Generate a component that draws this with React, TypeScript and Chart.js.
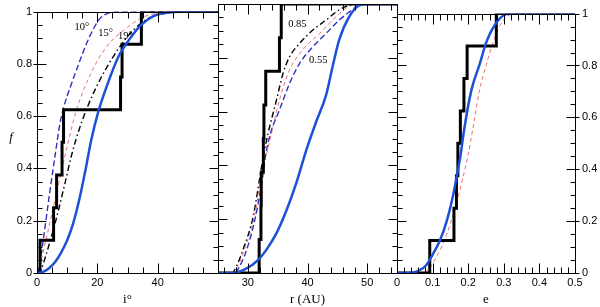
import React, { useEffect, useRef } from "react";
import { Chart, registerables } from "chart.js";

Chart.register(...registerables);

// ---------- shared ----------
const CUM_FRACTION = [0, 0.125, 0.25, 0.375, 0.5, 0.625, 0.75, 0.875, 1, 1];
const F_TICKS = [0, 0.2, 0.4, 0.6, 0.8, 1];
const F_TICK_LABELS = ["0", "0.2", "0.4", "0.6", "0.8", "1"];

// ---------- panel 1: inclination i (deg) ----------
const I_TICKS = [0, 20, 40];
const P1_OBS_I = [0, 1.0, 5.5, 6.5, 8.3, 8.8, 27.7, 28.2, 34.6, 60];
const P1_FIT_I = [0, 2, 4, 6, 8, 10, 12, 14, 16, 18, 20.4, 23.2, 27.1, 30.4, 34.3, 38.8, 45, 50, 60];
const P1_FIT_F = [0, 0.004, 0.018, 0.042, 0.078, 0.125, 0.19, 0.28, 0.39, 0.51, 0.62, 0.717, 0.83, 0.89, 0.946, 0.984, 0.998, 1, 1];
const P1_S10_I = [0, 0.5, 2, 4, 6, 7.5, 9, 11, 13.5, 16.5, 19, 21, 24, 28, 60];
const P1_S10_F = [0, 0.01, 0.12, 0.29, 0.45, 0.565, 0.64, 0.71, 0.79, 0.88, 0.94, 0.975, 0.995, 1, 1];
const P1_S15_I = [0, 0.5, 3, 6, 9.5, 13, 17.5, 23, 30, 35, 40, 45, 60];
const P1_S15_F = [0, 0.01, 0.13, 0.28, 0.46, 0.62, 0.755, 0.865, 0.94, 0.978, 0.994, 1, 1];
const P1_S19_I = [0, 1, 3, 6, 9, 11.6, 14, 17, 21, 25.4, 29, 32, 36.6, 43, 50, 60];
const P1_S19_F = [0, 0.005, 0.07, 0.19, 0.33, 0.457, 0.55, 0.643, 0.742, 0.83, 0.89, 0.93, 0.972, 0.995, 1, 1];
const P1_NOTE_TEXT = ["10°", "15°", "19°"];
const P1_NOTE_I = [14.9, 22.7, 29.3];
const P1_NOTE_F = [0.94, 0.918, 0.906];

// ---------- panel 2: r (AU) ----------
const R_TICKS = [30, 40, 50];
const P2_OBS_R = [25, 31.9, 32.2, 32.25, 32.6, 32.7, 33.0, 35.3, 35.6, 55];
const P2_FIT_R = [25, 27.5, 29.8, 31.7, 33.1, 34.8, 36.5, 38.1, 39.8, 41.5, 43.1, 44.2, 45.3, 47, 48.7, 50.3, 55];
const P2_FIT_F = [0, 0, 0.017, 0.048, 0.086, 0.148, 0.234, 0.333, 0.457, 0.565, 0.66, 0.767, 0.866, 0.953, 0.995, 1, 1];
const P2_A85_R = [25, 27.3, 28.2, 29.2, 30.9, 32.3, 32.8, 33.4, 34.8, 35.9, 37, 38.7, 40.9, 43.1, 45.3, 47, 48.5, 55];
const P2_A85_F = [0, 0, 0.03, 0.087, 0.21, 0.395, 0.457, 0.52, 0.643, 0.742, 0.804, 0.854, 0.903, 0.94, 0.978, 0.995, 1, 1];
const P2_MID_R = [25, 27.5, 28.3, 29.4, 31.1, 32.5, 33.3, 35.3, 37, 39.2, 42, 44.8, 47.2, 48.5, 55];
const P2_MID_F = [0, 0, 0.025, 0.087, 0.21, 0.395, 0.457, 0.643, 0.755, 0.83, 0.89, 0.953, 0.995, 1, 1];
const P2_A55_R = [25, 27.8, 28.5, 29.8, 31.2, 32.3, 33.0, 33.8, 35.3, 37, 38.7, 40.9, 43.1, 45.3, 47, 48.5, 50, 55];
const P2_A55_F = [0, 0, 0.02, 0.086, 0.2, 0.33, 0.44, 0.52, 0.606, 0.705, 0.78, 0.841, 0.89, 0.94, 0.97, 0.995, 1, 1];
const P2_NOTE_TEXT = ["0.85", "0.55"];
const P2_NOTE_R = [38.3, 41.8];
const P2_NOTE_F = [0.926, 0.79];

// ---------- panel 3: eccentricity e ----------
const E_TICKS = [0, 0.1, 0.2, 0.3, 0.4, 0.5];
const E_TICK_LABELS = ["0", "0.1", "0.2", "0.3", "0.4", "0.5"];
const P3_OBS_E = [0, 0.092, 0.16, 0.167, 0.171, 0.178, 0.188, 0.197, 0.279, 0.5];
const P3_FIT_E = [0, 0.03, 0.054, 0.082, 0.101, 0.12, 0.139, 0.157, 0.171, 0.178, 0.19, 0.209, 0.232, 0.251, 0.279, 0.308, 0.33, 0.5];
const P3_FIT_F = [0, 0, 0.005, 0.03, 0.073, 0.123, 0.197, 0.296, 0.395, 0.45, 0.565, 0.705, 0.804, 0.89, 0.965, 0.998, 1, 1];
const P3_MOD_E = [0, 0.07, 0.082, 0.11, 0.139, 0.167, 0.19, 0.2, 0.216, 0.232, 0.251, 0.27, 0.289, 0.317, 0.34, 0.5];
const P3_MOD_F = [0, 0, 0.005, 0.06, 0.147, 0.27, 0.395, 0.457, 0.58, 0.705, 0.804, 0.89, 0.953, 0.996, 1, 1];

// ---------- styling ----------
const SANS = "'Liberation Sans', Arial, Helvetica, sans-serif";
const SERIF = "'Liberation Serif', 'Times New Roman', serif";
const BLUE = "#1d50d8";
const DBLUE = "#2b33c4";
const SALMON = "#e9736c";

const pts = (xs: number[], ys: number[]) => xs.map((x, k) => ({ x, y: ys[k] }));

const curve = (xs: number[], ys: number[], color: string, width: number, dash: number[]) => ({
  data: pts(xs, ys),
  borderColor: color,
  borderWidth: width,
  borderDash: dash,
  pointRadius: 0,
  fill: false,
  cubicInterpolationMode: "monotone" as const,
});

const stepDs = (xs: number[]) => ({
  data: pts(xs, CUM_FRACTION),
  borderColor: "#000",
  borderWidth: 3,
  pointRadius: 0,
  fill: false,
  stepped: "before" as const,
});

const frameTicks = {
  id: "frameTicks",
  afterDatasetsDraw(chart: any, _a: any, opts: any) {
    const { ctx, chartArea: a, scales } = chart;
    const xs = scales.x;
    const ys = scales.y;
    const L = Math.round(a.left) + 0.5;
    const R = Math.round(a.right) + 0.5;
    const T = Math.round(a.top) + 0.5;
    const B = Math.round(a.bottom) + 0.5;
    ctx.save();
    ctx.strokeStyle = "#000";
    ctx.lineWidth = 1;
    ctx.beginPath();
    ctx.rect(L, T, R - L, B - T);
    const isMult = (v: number, m: number) => Math.abs(v / m - Math.round(v / m)) < 1e-6;
    const start = Math.ceil(xs.min / opts.xMinor - 1e-9) * opts.xMinor;
    for (let k = 0; ; k++) {
      const v = start + k * opts.xMinor;
      if (v > xs.max + 1e-9) break;
      const major = isMult(v, opts.xMajor);
      const len = major ? 10 : 6;
      const px = Math.round(xs.getPixelForValue(v)) + 0.5;
      ctx.moveTo(px, B);
      ctx.lineTo(px, B - len);
      ctx.moveTo(px, T);
      ctx.lineTo(px, T + len);
    }
    for (let k = 0; k <= 20; k++) {
      const v = k * 0.05;
      const major = k % 4 === 0;
      const len = major ? 9 : 5;
      const py = Math.round(ys.getPixelForValue(v)) + 0.5;
      ctx.moveTo(L - (major && opts.outerLeft ? 4 : 0), py);
      ctx.lineTo(L + len, py);
      ctx.moveTo(R + (major && opts.outerRight ? 4 : 0), py);
      ctx.lineTo(R - len, py);
    }
    ctx.stroke();
    if (opts.notes) {
      ctx.fillStyle = "#000";
      ctx.font = `10.5px ${SERIF}`;
      ctx.textAlign = "center";
      ctx.textBaseline = "middle";
      opts.notes.text.forEach((t: string, k: number) => {
        ctx.fillText(t, xs.getPixelForValue(opts.notes.x[k]), ys.getPixelForValue(opts.notes.y[k]));
      });
    }
    if (opts.yTitle) {
      ctx.fillStyle = "#000";
      ctx.font = `italic 13px ${SERIF}`;
      ctx.textAlign = "center";
      ctx.textBaseline = "middle";
      ctx.fillText(opts.yTitle, a.left - 26, (a.top + a.bottom) / 2 - 5);
    }
    ctx.restore();
  },
};

const tickFont = { family: SANS, size: 11 };

function makeConfig(panel: number): any {
  const xTicks = panel === 1 ? I_TICKS : panel === 2 ? R_TICKS : E_TICKS;
  const xLabels = panel === 3 ? E_TICK_LABELS : xTicks.map(String);
  let datasets: any[] = [];
  let xmin = 0, xmax = 60, title = "i°";
  let padding: any = { left: 0, right: 382, top: 4, bottom: 0 };
  let ft: any = { xMinor: 5, xMajor: 20, outerLeft: true, outerRight: false };
  if (panel === 1) {
    datasets = [
      curve(P1_FIT_I, P1_FIT_F, BLUE, 2.5, []),
      stepDs(P1_OBS_I),
      curve(P1_S10_I, P1_S10_F, DBLUE, 1.4, [6, 3]),
      curve(P1_S15_I, P1_S15_F, SALMON, 1, [4, 3]),
      curve(P1_S19_I, P1_S19_F, "#000", 1.4, [6, 3, 1.5, 3]),
    ];
    ft.notes = { text: P1_NOTE_TEXT, x: P1_NOTE_I, y: P1_NOTE_F };
    ft.yTitle = "f";
  } else if (panel === 2) {
    xmin = 25; xmax = 55; title = "r (AU)";
    padding = { left: 218, right: 203, top: 4, bottom: 0 };
    ft = { xMinor: 2, xMajor: 10, outerLeft: false, outerRight: false };
    datasets = [
      curve(P2_FIT_R, P2_FIT_F, BLUE, 2.5, []),
      stepDs(P2_OBS_R),
      curve(P2_A55_R, P2_A55_F, DBLUE, 1.4, [6, 3]),
      curve(P2_MID_R, P2_MID_F, SALMON, 1, [4, 3]),
      curve(P2_A85_R, P2_A85_F, "#000", 1.4, [6, 3, 1.5, 3]),
    ];
    ft.notes = { text: P2_NOTE_TEXT, x: P2_NOTE_R, y: P2_NOTE_F };
  } else {
    xmin = 0; xmax = 0.5; title = "e";
    padding = { left: 397, right: 0, top: 4, bottom: 0 };
    ft = { xMinor: 0.02, xMajor: 0.1, outerLeft: false, outerRight: true };
    datasets = [
      curve(P3_FIT_E, P3_FIT_F, BLUE, 2.5, []),
      stepDs(P3_OBS_E),
      curve(P3_MOD_E, P3_MOD_F, SALMON, 1, [4, 3]),
    ];
  }
  const yWidth = panel === 1 ? 37 : panel === 3 ? 25 : 0;
  return {
    type: "line",
    data: { datasets },
    plugins: [frameTicks],
    options: {
      animation: false,
      responsive: false,
      devicePixelRatio: 1,
      layout: { padding },
      plugins: {
        legend: { display: false },
        tooltip: { enabled: false },
        frameTicks: ft,
      },
      scales: {
        x: {
          type: "linear",
          min: xmin,
          max: xmax,
          grid: { display: false, drawTicks: false },
          border: { display: false },
          afterBuildTicks: (s: any) => { s.ticks = xTicks.map((value) => ({ value })); },
          afterFit: (s: any) => { s.height = 34; },
          ticks: {
            padding: 3,
            color: "#000",
            font: tickFont,
            maxRotation: 0,
            autoSkip: false,
            callback: (_v: any, i: number) => xLabels[i],
          },
          title: { display: true, text: title, color: "#000", font: { family: SERIF, size: 13 }, padding: 0 },
        },
        y: {
          type: "linear",
          display: panel !== 2,
          position: panel === 3 ? "right" : "left",
          min: 0,
          max: 1,
          grid: { display: false, drawTicks: false },
          border: { display: false },
          afterBuildTicks: (s: any) => { s.ticks = F_TICKS.map((value) => ({ value })); },
          afterFit: (s: any) => { s.width = yWidth; },
          ticks: {
            padding: panel === 3 ? 7 : 5,
            color: "#000",
            font: tickFont,
            autoSkip: false,
            callback: (_v: any, i: number) => F_TICK_LABELS[i],
          },
        },
      },
    },
  };
}

function Panel({ panel }: { panel: number }) {
  const ref = useRef<HTMLCanvasElement | null>(null);
  useEffect(() => {
    if (!ref.current) return;
    const chart = new Chart(ref.current, makeConfig(panel));
    return () => chart.destroy();
  }, [panel]);
  return (
    <canvas
      ref={ref}
      width={600}
      height={307}
      style={{ position: "absolute", left: 0, top: 0, width: 600, height: 307 }}
    />
  );
}

export default function App() {
  return (
    <div style={{ position: "fixed", left: 0, top: 0, width: 600, height: 307, background: "#fff" }}>
      <Panel panel={1} />
      <Panel panel={2} />
      <Panel panel={3} />
    </div>
  );
}
